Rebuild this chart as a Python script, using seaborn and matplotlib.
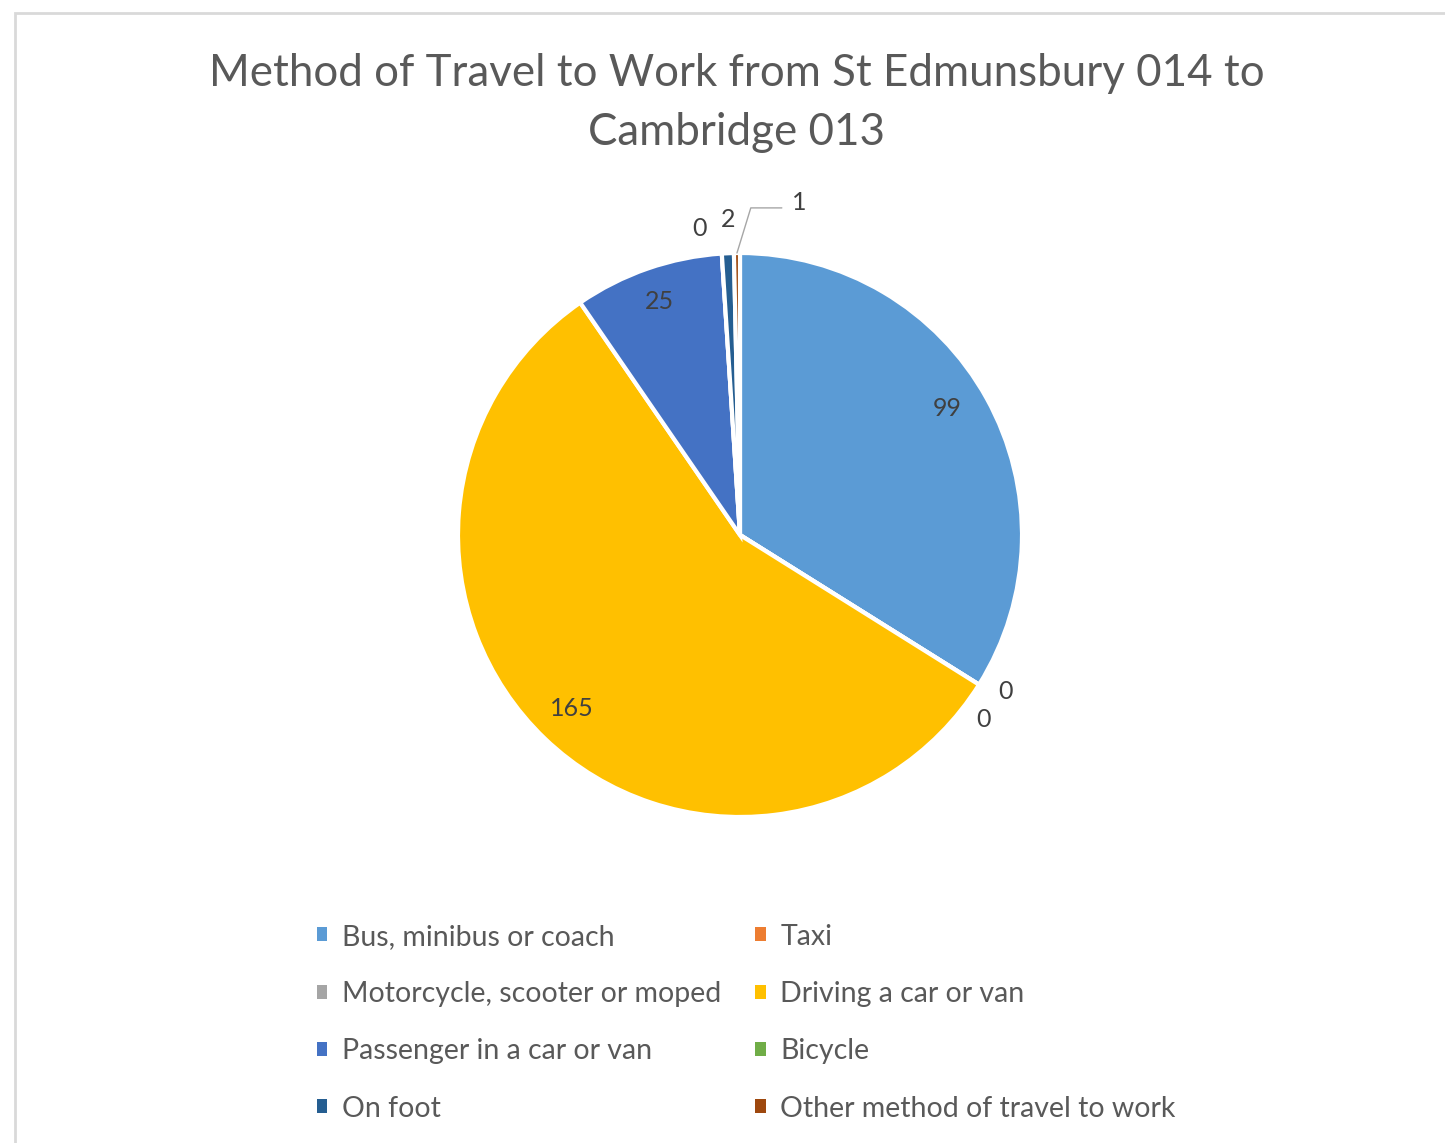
import numpy as np
import matplotlib
matplotlib.use("Agg")
import matplotlib.pyplot as plt
import seaborn as sns
from matplotlib.patches import Rectangle

categories = ["Bus, minibus or coach", "Taxi", "Motorcycle, scooter or moped",
              "Driving a car or van", "Passenger in a car or van", "Bicycle",
              "On foot", "Other method of travel to work"]
values = [99, 0, 0, 165, 25, 0, 2, 1]
colors = ["#5B9BD5", "#ED7D31", "#A5A5A5", "#FFC000", "#4472C4", "#70AD47",
          "#255E91", "#9E480E"]
title = "Method of Travel to Work from St Edmunsbury 014 to\nCambridge 013"

sns.set_theme(style="white")
plt.rcParams['font.family'] = ['Lato', 'DejaVu Sans']

W, H = 1445, 1143
fig = plt.figure(figsize=(W / 100, H / 100), dpi=100)
fig.patch.set_facecolor("white")

# chart frame
fig.add_artist(Rectangle((15 / W, -0.05), 1.2, 1 - 13 / H + 0.05, transform=fig.transFigure,
                         fill=False, edgecolor="#D9D9D9", linewidth=2))

cx, cy, r = 740, 535, 282
ax = fig.add_axes([(cx - r) / W, (H - cy - r) / H, 2 * r / W, 2 * r / H])
wedges, _ = ax.pie(values, colors=colors, startangle=90, counterclock=False,
                   wedgeprops=dict(edgecolor="white", linewidth=3), radius=1)
ax.set_xlim(-1, 1)
ax.set_ylim(-1, 1)
ax.set_aspect("equal")
ax.axis("off")

# label placement styles: (radius factor, angle offset deg, dx, dy, leader)
label_style = {
    0: (0.84, 0, 0, 0.04, False),
    1: (1.09, 3, -0.01, -0.025, False),
    2: (1.09, -2, -0.04, -0.045, False),
    3: (0.85, 0, -0.01, 0, False),
    4: (0.83, 0, -0.015, 0.042, False),
    5: (1.09, 0, -0.075, 0.0, False),
    6: (1.09, 0, 0.006, 0.03, False),
    7: (1.09, 0, 0.22, 0.09, True),
}
for i, (w, v) in enumerate(zip(wedges, values)):
    ang = (w.theta1 + w.theta2) / 2
    rf, aoff, dx, dy, leader = label_style[i]
    a = np.deg2rad(ang + aoff)
    x, y = rf * np.cos(a) + dx, rf * np.sin(a) + dy
    ax.text(x, y, str(v), ha="center", va="center", fontsize=18, color="#404040",
            clip_on=False)
    if leader:
        a0 = np.deg2rad(ang)
        ax.plot([np.cos(a0) * 1.0, x - 0.17, x - 0.06], [np.sin(a0) * 1.0, y - 0.02, y - 0.02],
                color="#A6A6A6", lw=1, clip_on=False)

fig.text(0.51, 1 - 103 / H, title, ha="center", va="center", fontsize=31.6,
         color="#595959", linespacing=1.55)

# legend row-major order -> reorder for column-major fill
order = [0, 2, 4, 6, 1, 3, 5, 7]
handles = [Rectangle((0, 0), 1, 1, facecolor=colors[i], edgecolor="none") for i in order]
labels = [categories[i] for i in order]
leg = fig.legend(handles, labels, ncol=2, loc="upper left",
                 bbox_to_anchor=(291 / W, 1 - 898 / H), frameon=False,
                 fontsize=20.5, handlelength=0.38, handleheight=0.38,
                 handletextpad=0.5, columnspacing=1.2, labelspacing=1.1,
                 labelcolor="#595959")

fig.savefig("out.png", dpi=100, facecolor="white")
